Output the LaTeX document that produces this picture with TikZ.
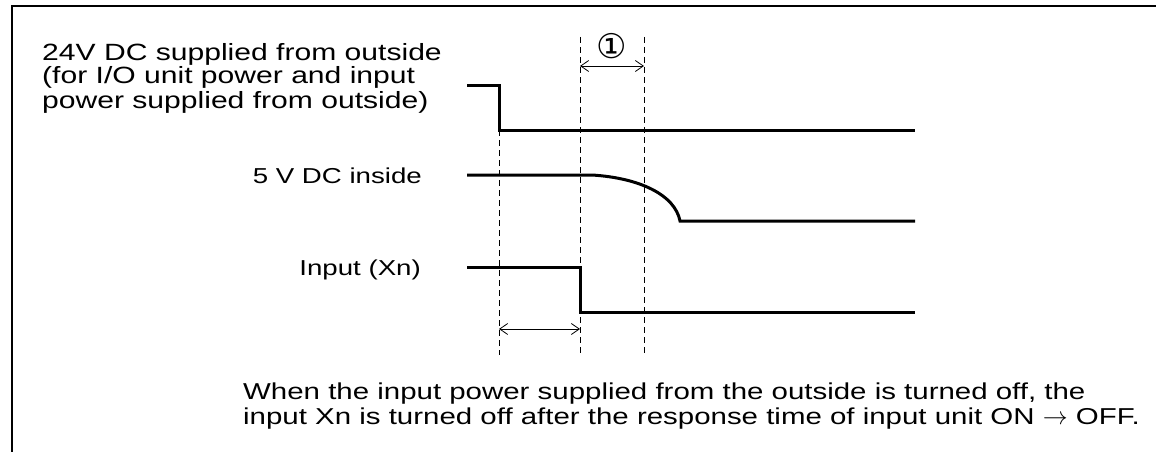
\documentclass[tikz,border=0pt]{standalone}
\usepackage{fontspec}
\setmainfont{Liberation Sans}[FakeStretch=1.28]
\newfontfamily\symfont{DejaVu Sans}
\usetikzlibrary{arrows.meta}
\begin{document}
\begin{tikzpicture}[x=1pt,y=-1pt,
  frame/.style={line width=2pt},
  signal/.style={line width=3pt},
  guide/.style={line width=0.8pt,dash pattern=on 6pt off 4pt},
  span/.style={line width=0.8pt,{Straight Barb[length=8pt,width=11pt]}-{Straight Barb[length=8pt,width=11pt]}},
  lbl/.style={inner sep=0pt,font=\fontsize{23.5}{24}\selectfont},
  nlbl/.style={inner sep=0pt,font=\fontsize{23}{24.5}\selectfont},
  slbl/.style={inner sep=0pt,font=\fontsize{21.6}{24}\selectfont}]
\useasboundingbox (0,0) rectangle (1156,452);
% frame (top and left only)
\coordinate (fl) at (12,452);
\coordinate (fc) at (12,6);
\coordinate (fr) at (1156,6);
\draw[frame] (fl) -- (fc) -- (fr);
% guide coordinates
\coordinate (g1t) at (499,130); \coordinate (g1b) at (499,355);
\coordinate (g2t) at (580,37);  \coordinate (g2b) at (580,355);
\coordinate (g3t) at (644,37);  \coordinate (g3b) at (644,355);
\draw[guide] (g1t) -- (g1b);
\draw[guide] (g2t) -- (g2b);
\draw[guide] (g3t) -- (g3b);
% 24V signal
\coordinate (a0) at (467,85); \coordinate (a1) at (499,85);
\coordinate (a2) at (499,130); \coordinate (a3) at (915,130);
\draw[signal] (a0) -- (a1) -- (a2) -- (a3);
% 5V signal
\coordinate (b0) at (467,175); \coordinate (b1) at (592,175);
\coordinate (b2) at (680,221); \coordinate (b3) at (915,221);
\draw[signal] (b0) -- (b1) .. controls (640,178) and (675,195) .. (b2) -- (b3);
% Input signal
\coordinate (c0) at (467,267); \coordinate (c1) at (580,267);
\coordinate (c2) at (580,312); \coordinate (c3) at (915,312);
\draw[signal] (c0) -- (c1) -- (c2) -- (c3);
% spans
\coordinate (s1a) at (580,66); \coordinate (s1b) at (644,66);
\draw[span] (s1a) -- (s1b);
\coordinate (s2a) at (499,329); \coordinate (s2b) at (580,329);
\draw[span] (s2a) -- (s2b);
\node[inner sep=0pt,font=\symfont\fontsize{34}{34}\selectfont] (circ) at (612,46) {①};
% labels
\node[lbl,anchor=base west,align=left] (l24) at (42,108)
  {24V DC supplied from outside\\(for I/O unit power and input\\power supplied from outside)};
\node[slbl,anchor=base east] (l5) at (422,183) {5 V DC inside};
\node[slbl,anchor=base east] (lin) at (421,275) {Input (Xn)};
\node[nlbl,anchor=base west,align=left] (note) at (243,424)
  {When the input power supplied from the outside is turned off, the\\input Xn is turned off after the response time of input unit ON $\rightarrow$ OFF.};
\end{tikzpicture}
\end{document}
